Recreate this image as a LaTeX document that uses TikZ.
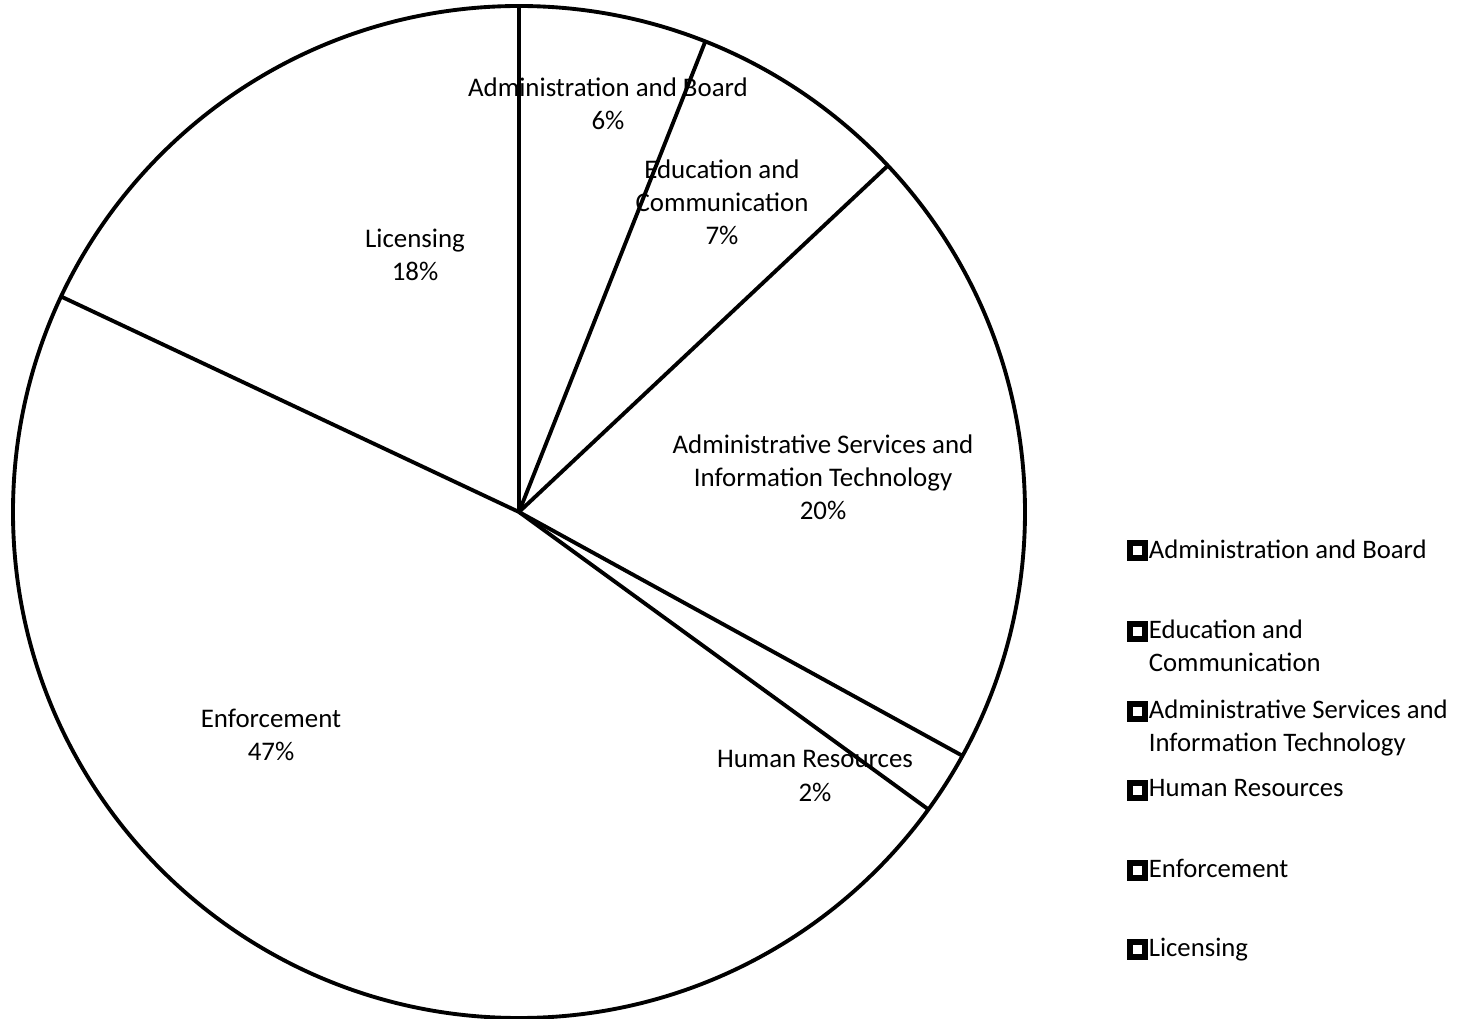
\documentclass[tikz,border=0pt]{standalone}
\usepackage{fontspec}
\setmainfont{Carlito}
\usetikzlibrary{positioning}

\tikzset{
  slice/.style={line width=2.2pt, line join=round},
  lbl/.style={align=center, font=\fontsize{15.3}{18.8}\selectfont},
  legmark/.style={draw=black, line width=0.12cm, fill=white, minimum size=0.3cm, inner sep=0pt},
  legtext/.style={align=left, font=\fontsize{15.2}{18.8}\selectfont, inner sep=0pt}
}

\begin{document}
\begin{tikzpicture}
\useasboundingbox (-10.38,-10.14) rectangle (18.86,10.24);
% Pie slices
\begin{scope}
\draw[slice] (0,0) circle (10.12);
\foreach \a in {90,68.4,43.2,-28.8,-36,154.8}
  \draw[slice] (0,0) -- (\a:10.12);
\node[lbl] (ab) at (1.78,8.16) {Administration and Board\\6\%};
\node[lbl] (edu) at (4.06,6.2) {Education and\\Communication\\7\%};
\node[lbl] (lic) at (-2.08,5.14) {Licensing\\18\%};
\node[lbl] (asit) at (6.08,0.7) {Administrative Services and\\Information Technology\\20\%};
\node[lbl] (hr) at (5.92,-5.28) {Human Resources\\2\%};
\node[lbl] (enf) at (-4.96,-4.46) {Enforcement\\47\%};
\end{scope}
% Legend
\begin{scope}
\foreach \y/\t [count=\i] in {-0.78/{Administration and Board},
    -2.38/{Education and\\Communication},
    -3.98/{Administrative Services and\\Information Technology},
    -5.56/{Human Resources},
    -7.16/{Enforcement},
    -8.74/{Licensing}} {
  \node[legmark] (m\i) at (12.36,\y) {};
  \node[legtext, anchor=north west] (l\i) at ([xshift=0.02cm, yshift=0.22cm]m\i.east) {\t};
}
\end{scope}
\end{tikzpicture}
\end{document}
